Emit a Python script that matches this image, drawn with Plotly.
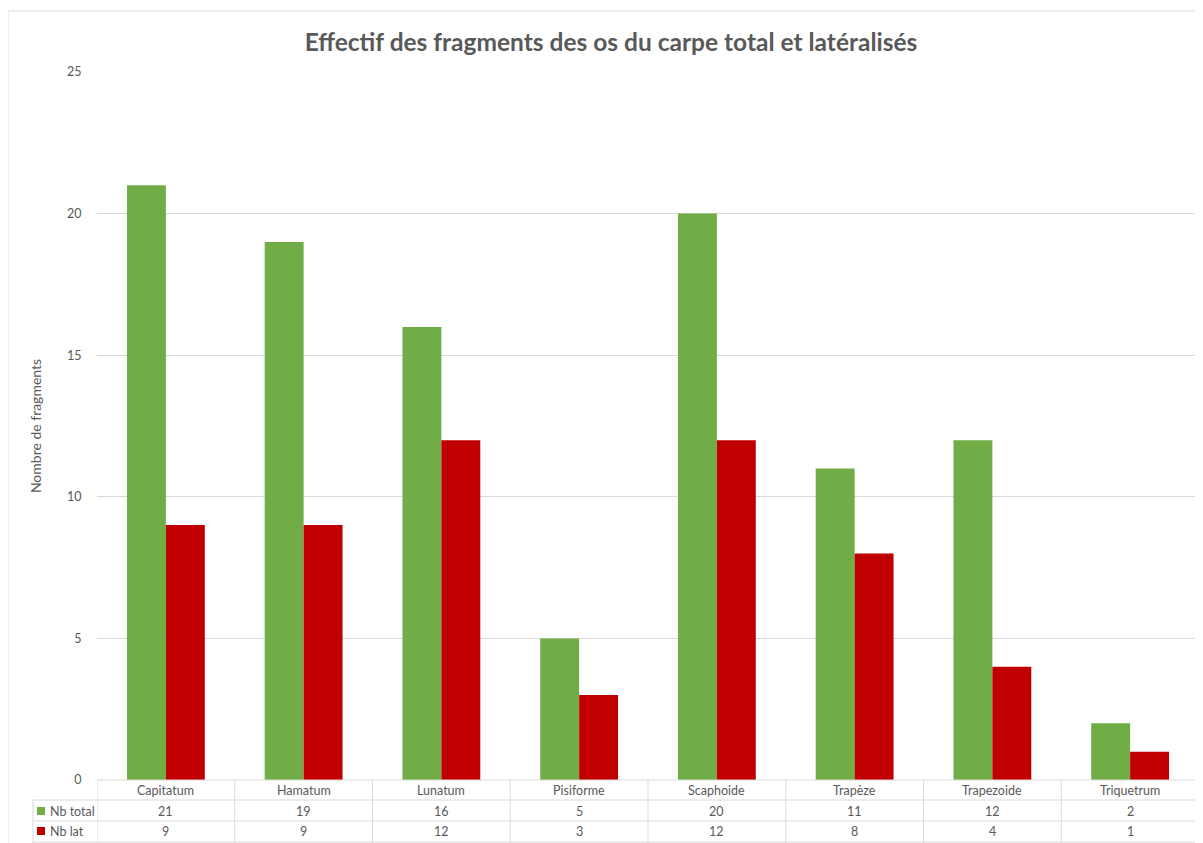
import plotly.graph_objects as go

categories = ["Capitatum", "Hamatum", "Lunatum", "Pisiforme", "Scaphoide", "Trapèze", "Trapezoide", "Triquetrum"]
nb_total = [21, 19, 16, 5, 20, 11, 12, 2]
nb_lat = [9, 9, 12, 3, 12, 8, 4, 1]
series_names = ["Nb total", "Nb lat"]
y_ticks = [0, 5, 10, 15, 20, 25]

GREEN = "#70AD47"
RED = "#C00000"
GRID = "#d9d9d9"
TXT = "#595959"
FONT = "Lato, 'Open Sans', sans-serif"

OFF = 8  # page body margin
W, H = 1203 - OFF, 843 - OFF
# plot area in page pixels: x 97..1199, y 72..780
L = 97 - OFF
R = W - (1199 - OFF)
T = 72 - OFF
B = H - (780 - OFF)
pw = W - L - R
ph = H - T - B

def px_x(x):
    return (x - OFF - L) / pw

def px_y(y):
    return (H - B - (y - OFF)) / ph

fig = go.Figure()
fig.add_trace(go.Bar(x=list(range(len(categories))), y=nb_total, name=series_names[0],
                     marker=dict(color=GREEN, line=dict(width=0))))
fig.add_trace(go.Bar(x=list(range(len(categories))), y=nb_lat, name=series_names[1],
                     marker=dict(color=RED, line=dict(width=0))))

shapes = []
annotations = []

# Outer chart border
shapes.append(dict(type="rect", xref="paper", yref="paper",
                   x0=px_x(8), x1=px_x(1260), y0=px_y(900), y1=px_y(11),
                   line=dict(color=GRID, width=1), fillcolor="rgba(0,0,0,0)", layer="below"))

row_lines = [780, 800, 821, 842]
n = len(categories)
shapes.append(dict(type="line", xref="paper", yref="paper", x0=0, x1=1,
                   y0=px_y(row_lines[0]), y1=px_y(row_lines[0]), line=dict(color=GRID, width=1)))
for yy in row_lines[1:]:
    shapes.append(dict(type="line", xref="paper", yref="paper", x0=px_x(33), x1=1,
                       y0=px_y(yy), y1=px_y(yy), line=dict(color=GRID, width=1)))
for i in range(n + 1):
    shapes.append(dict(type="line", xref="x", yref="paper", x0=i - 0.5, x1=i - 0.5,
                       y0=px_y(row_lines[0]), y1=px_y(870), line=dict(color=GRID, width=1)))
shapes.append(dict(type="line", xref="paper", yref="paper", x0=px_x(33), x1=px_x(33),
                   y0=px_y(row_lines[1]), y1=px_y(870), line=dict(color=GRID, width=1)))

row_centers = [790, 811, 831]
tf = dict(size=12.5, color=TXT, family=FONT)
for i, c in enumerate(categories):
    for r, txt in enumerate([c, str(nb_total[i]), str(nb_lat[i])]):
        annotations.append(dict(x=i, y=px_y(row_centers[r]), xref="x", yref="paper", text=txt,
                                xanchor="center", yanchor="middle", showarrow=False, font=tf))

for k, (name, col) in enumerate(zip(series_names, [GREEN, RED])):
    yc = row_centers[k + 1]
    shapes.append(dict(type="rect", xref="paper", yref="paper", x0=px_x(37), x1=px_x(45),
                       y0=px_y(yc + 4), y1=px_y(yc - 4), fillcolor=col, line=dict(width=0)))
    annotations.append(dict(x=px_x(48), y=px_y(yc), xref="paper", yref="paper", text=name,
                            xanchor="left", yanchor="middle", showarrow=False, font=tf))

fig.update_layout(
    width=W, height=H,
    margin=dict(l=L, r=R, t=T, b=B, pad=0, autoexpand=False),
    paper_bgcolor="white", plot_bgcolor="white",
    barmode="group", bargap=0.435, bargroupgap=0,
    showlegend=False,
    title=dict(text="<b>Effectif des fragments des os du carpe total et latéralisés</b>",
               x=(611 - OFF) / W, xanchor="center", xref="container",
               y=1 - (42 - OFF) / H, yanchor="middle", yref="container",
               font=dict(size=24.5, color=TXT, family=FONT)),
    xaxis=dict(range=[-0.5, n - 0.5], showticklabels=False, showgrid=False, zeroline=False,
               showline=False, ticks="", automargin=False),
    yaxis=dict(range=[0, 25], tickvals=y_ticks, showgrid=True, gridcolor=GRID, gridwidth=1,
               zeroline=False, showline=False, ticks="outside", ticklen=12, automargin=False,
               tickcolor="rgba(0,0,0,0)", tickfont=dict(size=12.5, color=TXT, family=FONT),
               title=dict(text="Nombre de fragments", standoff=22,
                          font=dict(size=14, color=TXT, family=FONT))),
    shapes=shapes, annotations=annotations,
)

fig.write_html("out.html")
